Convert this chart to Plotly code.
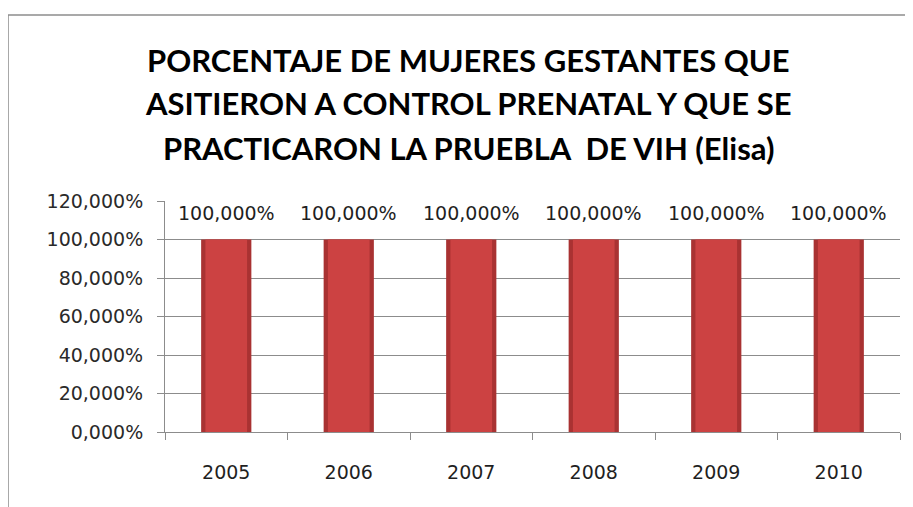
import plotly.graph_objects as go

years = ["2005", "2006", "2007", "2008", "2009", "2010"]
values = [100.0, 100.0, 100.0, 100.0, 100.0, 100.0]
tick_vals = [0, 20, 40, 60, 80, 100, 120]
tick_text = ["0,000%", "20,000%", "40,000%", "60,000%", "80,000%", "100,000%", "120,000%"]
bar_labels = ["100,000%"] * 6

title_lines = ["PORCENTAJE DE MUJERES GESTANTES QUE",
               "ASITIERON A CONTROL PRENATAL Y QUE SE",
               "PRACTICARON LA PRUEBLA  DE VIH (Elisa)"]

FONT = "DejaVu Sans"

fig = go.Figure()
fig.add_trace(go.Bar(
    x=years, y=values, width=0.41,
    marker=dict(color="#a93232", line=dict(width=0)),
    hoverinfo="skip",
))
fig.add_trace(go.Bar(
    x=years, y=values, width=0.34,
    marker=dict(color="#cc4242", line=dict(width=0)),
))

annotations = []
for i, (v, lab) in enumerate(zip(values, bar_labels)):
    annotations.append(dict(x=i, y=v, xref="x", yref="y", text=lab, showarrow=False,
                            yanchor="middle", yshift=27,
                            font=dict(family=FONT, size=19, color="#1f1f1f")))

title_y = [1.610, 1.424, 1.229]
for line, ty in zip(title_lines, title_y):
    annotations.append(dict(x=0.4136, y=ty, xref="paper", yref="paper", text=line,
                            showarrow=False, xanchor="center", yanchor="middle",
                            font=dict(family="Lato", size=31, color="black", weight="bold")))

fig.update_layout(
    width=905, height=499,
    paper_bgcolor="white", plot_bgcolor="white",
    margin=dict(l=157, r=13, t=193, b=75, autoexpand=False),
    showlegend=False, barmode="overlay",
    annotations=annotations,
    shapes=[
        dict(type="line", xref="paper", yref="paper", x0=-0.2136, x1=1.03, y0=1.8052, y1=1.8052,
             line=dict(color="#8c8c8c", width=1.5)),
        dict(type="line", xref="paper", yref="paper", x0=-0.2136, x1=-0.2136, y0=1.8052, y1=-0.35,
             line=dict(color="#8c8c8c", width=1.5)),
    ],
)
fig.update_yaxes(
    range=[0, 120], tickvals=tick_vals, ticktext=tick_text,
    showgrid=True, gridcolor="#8c8c8c", gridwidth=1,
    showline=True, linecolor="#8c8c8c", linewidth=1,
    ticks="outside", ticklen=7, tickcolor="#8c8c8c", ticklabelstandoff=10,
    tickfont=dict(family=FONT, size=19, color="#2a2a2a"),
    zeroline=False,
)
fig.update_xaxes(
    type="category", tickangle=0, range=[-0.5, len(years) - 0.5],
    showline=True, linecolor="#8c8c8c", linewidth=1,
    ticks="outside", ticklen=7, tickcolor="#8c8c8c", tickson="boundaries",
    ticklabelstandoff=23,
    tickfont=dict(family=FONT, size=19, color="#1f1f1f"),
    showgrid=False,
)
fig.write_html("out.html")
